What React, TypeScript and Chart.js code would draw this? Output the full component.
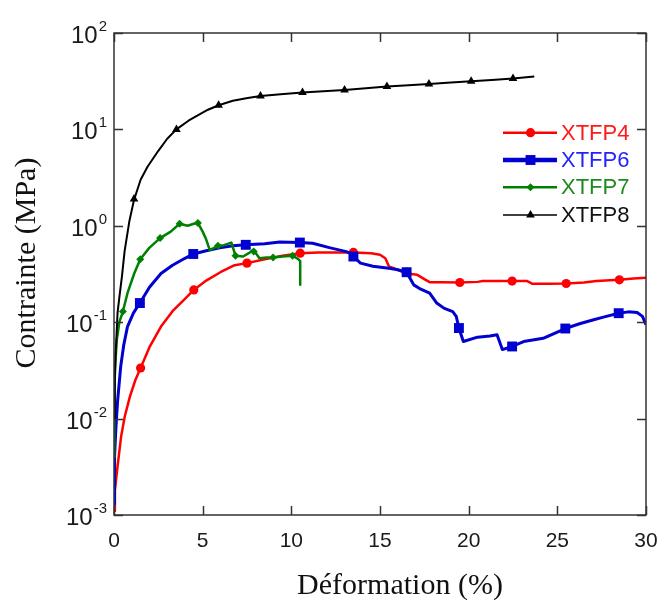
import React, { useEffect, useRef } from 'react';
import { Chart, registerables } from 'chart.js';

Chart.register(...registerables);

// ---------- data ----------
const xTickValues = [0, 5, 10, 15, 20, 25, 30];
const yTickExponents = [-3, -2, -1, 0, 1, 2];
const seriesNames = ['XTFP4', 'XTFP6', 'XTFP7', 'XTFP8'];

const xtfp4X = [0, 0.05, 0.2, 0.4, 0.6, 0.9, 1.2, 1.5, 2.0, 2.65, 3.3, 4.0, 4.5, 5.2, 6.0, 6.8, 7.5, 8.5, 9.5, 10.5, 11.5, 12.5, 13.5, 14.5, 15.0, 15.3, 15.5, 16.0, 16.5, 17.1, 17.5, 17.8, 18.5, 19.5, 20.5, 20.8, 21.5, 22.4, 23.3, 23.6, 24.5, 25.5, 26.5, 27.2, 28.5, 29.3, 30];
const xtfp4Y = [0.0011, 0.0018, 0.0032, 0.0065, 0.0104, 0.017, 0.025, 0.0335, 0.055, 0.09, 0.13, 0.175, 0.216, 0.27, 0.33, 0.39, 0.41, 0.45, 0.49, 0.52, 0.53, 0.53, 0.53, 0.52, 0.5, 0.46, 0.38, 0.35, 0.32, 0.31, 0.28, 0.26, 0.26, 0.258, 0.262, 0.267, 0.267, 0.267, 0.267, 0.25, 0.25, 0.252, 0.258, 0.267, 0.275, 0.284, 0.29];
const xtfp4MarkX = [1.5, 4.5, 7.5, 10.5, 13.5, 16.5, 19.5, 22.45, 25.5, 28.5];
const xtfp4MarkY = [0.0335, 0.216, 0.41, 0.52, 0.53, 0.33, 0.258, 0.267, 0.252, 0.275];

const xtfp6X = [0, 0.03, 0.1, 0.2, 0.38, 0.55, 0.76, 1.1, 1.46, 2.0, 2.65, 3.3, 4.0, 4.47, 5.2, 5.96, 6.7, 7.43, 8.5, 9.35, 10.48, 11.2, 12.2, 13.1, 13.3, 13.5, 13.9, 14.6, 15.6, 16.0, 16.5, 16.9, 17.3, 17.8, 18.2, 18.6, 19.1, 19.3, 19.45, 19.7, 20.5, 21.2, 21.6, 21.9, 22.45, 23.1, 24.2, 25.45, 26.3, 27.05, 27.6, 28.46, 29.0, 29.5, 29.8, 30];
const xtfp6Y = [0.0013, 0.004, 0.0076, 0.015, 0.035, 0.058, 0.09, 0.125, 0.158, 0.23, 0.32, 0.39, 0.46, 0.51, 0.55, 0.59, 0.62, 0.635, 0.65, 0.68, 0.67, 0.66, 0.59, 0.54, 0.52, 0.48, 0.41, 0.38, 0.36, 0.35, 0.33, 0.244, 0.22, 0.2, 0.158, 0.14, 0.129, 0.115, 0.087, 0.063, 0.07, 0.072, 0.074, 0.052, 0.056, 0.063, 0.068, 0.086, 0.097, 0.106, 0.113, 0.124, 0.128, 0.126, 0.115, 0.094];
const xtfp6MarkX = [1.46, 4.47, 7.43, 10.48, 13.5, 16.5, 19.45, 22.45, 25.45, 28.46];
const xtfp6MarkY = [0.158, 0.51, 0.635, 0.67, 0.48, 0.33, 0.087, 0.056, 0.086, 0.124];

const xtfp7X = [0, 0, 0.03, 0.1, 0.16, 0.3, 0.5, 0.76, 1.14, 1.48, 1.99, 2.6, 3.2, 3.7, 4.15, 4.5, 4.73, 5.0, 5.2, 5.4, 5.86, 6.2, 6.62, 6.7, 6.85, 7.28, 7.6, 7.84, 8.0, 8.2, 8.6, 8.97, 9.5, 10.07, 10.4, 10.5, 10.5];
const xtfp7Y = [0.004, 0.01, 0.021, 0.045, 0.066, 0.1, 0.129, 0.2, 0.32, 0.45, 0.59, 0.745, 0.87, 1.05, 1.0, 1.05, 1.07, 0.87, 0.72, 0.56, 0.62, 0.63, 0.67, 0.6, 0.49, 0.48, 0.52, 0.56, 0.52, 0.46, 0.47, 0.47, 0.48, 0.49, 0.45, 0.43, 0.244];
const xtfp7MarkX = [0.5, 1.48, 2.6, 3.7, 4.73, 5.86, 6.85, 7.88, 8.97, 10.07];
const xtfp7MarkY = [0.129, 0.45, 0.745, 1.05, 1.07, 0.62, 0.49, 0.54, 0.47, 0.49];

const xtfp8X = [0, 0.05, 0.1, 0.2, 0.3, 0.45, 0.6, 0.86, 1.13, 1.5, 1.89, 2.5, 3.0, 3.52, 4.2, 4.72, 5.3, 5.9, 6.7, 7.54, 8.26, 9.4, 10.63, 11.8, 13.0, 14.2, 15.39, 16.6, 17.76, 19.0, 20.14, 21.3, 22.5, 23.7];
const xtfp8Y = [0.01, 0.03, 0.05, 0.125, 0.18, 0.3, 0.55, 1.1, 1.86, 3.0, 4.1, 6.0, 8.0, 10.0, 12.3, 14.0, 16.0, 17.8, 19.8, 21.2, 22.2, 23.2, 24.1, 24.9, 25.7, 26.7, 27.8, 28.7, 29.6, 30.6, 31.6, 32.6, 33.7, 35.4];
const xtfp8MarkX = [1.13, 3.52, 5.9, 8.26, 10.63, 13.0, 15.39, 17.76, 20.14, 22.5];
const xtfp8MarkY = [1.9, 10.0, 17.8, 22.2, 24.1, 25.7, 27.8, 29.6, 31.6, 33.7];

// ---------- styles ----------
const COLORS = ['#ff0000', '#0000d0', '#008000', '#000000'];
const TEXT_COLORS = ['#ff1a1a', '#2323ff', '#1f8a1f', '#111111'];
const LINE_W = [2.5, 3, 2.5, 2];
const LEGEND_LINE_W = [2.5, 4.5, 2.5, 1.5];
const POINT_STYLES = ['circle', 'rect', 'rectRot', 'triangle'];
const POINT_R = [4.6, 7, 4, 5];

const toPts = (xs: number[], ys: number[]) => xs.map((x, i) => ({ x, y: ys[i] }));

function drawMarker(ctx: CanvasRenderingContext2D, style: string, x: number, y: number, r: number) {
  ctx.beginPath();
  if (style === 'circle') {
    ctx.arc(x, y, r, 0, Math.PI * 2);
  } else if (style === 'rect') {
    const s = Math.SQRT1_2 * r;
    ctx.rect(x - s, y - s, 2 * s, 2 * s);
  } else if (style === 'rectRot') {
    ctx.moveTo(x - r, y);
    ctx.lineTo(x, y - r);
    ctx.lineTo(x + r, y);
    ctx.lineTo(x, y + r);
    ctx.closePath();
  } else {
    const h = r;
    ctx.moveTo(x, y - h);
    ctx.lineTo(x + h * Math.sin((2 * Math.PI) / 3), y - h * Math.cos((2 * Math.PI) / 3));
    ctx.lineTo(x - h * Math.sin((2 * Math.PI) / 3), y - h * Math.cos((2 * Math.PI) / 3));
    ctx.closePath();
  }
  ctx.fill();
}

const framePlugin = {
  id: 'framePlugin',
  afterDraw(chart: any) {
    const ctx: CanvasRenderingContext2D = chart.ctx;
    const { left, right, top, bottom } = chart.chartArea;
    const xs = chart.scales.x;
    const ys = chart.scales.y;
    ctx.save();
    // frame
    ctx.strokeStyle = '#333333';
    ctx.lineWidth = 1.5;
    ctx.strokeRect(left, top, right - left, bottom - top);
    // ticks (inward, all sides)
    const TL = 9;
    ctx.beginPath();
    xTickValues.forEach((v) => {
      const px = Math.round(xs.getPixelForValue(v)) + 0.5;
      ctx.moveTo(px, bottom);
      ctx.lineTo(px, bottom - TL);
      ctx.moveTo(px, top);
      ctx.lineTo(px, top + TL);
    });
    yTickExponents.forEach((e) => {
      const py = Math.round(ys.getPixelForValue(Math.pow(10, e))) + 0.5;
      ctx.moveTo(left, py);
      ctx.lineTo(left + TL, py);
      ctx.moveTo(right, py);
      ctx.lineTo(right - TL, py);
    });
    ctx.stroke();

    // x tick labels
    ctx.fillStyle = '#1a1a1a';
    ctx.font = '21px "Liberation Sans", Arial, sans-serif';
    ctx.textAlign = 'center';
    ctx.textBaseline = 'alphabetic';
    xTickValues.forEach((v) => {
      ctx.fillText(String(v), xs.getPixelForValue(v), bottom + 32);
    });

    // y tick labels: 10^e
    yTickExponents.forEach((e) => {
      const py = ys.getPixelForValue(Math.pow(10, e));
      const exp = String(e);
      ctx.font = '15px "Liberation Sans", Arial, sans-serif';
      const ew = ctx.measureText(exp).width;
      const expRight = left - 7;
      ctx.textAlign = 'right';
      ctx.fillText(exp, expRight, py - 2);
      ctx.font = '24px "Liberation Sans", Arial, sans-serif';
      ctx.fillText('10', expRight - ew - 1, py + 10);
    });

    // axis titles
    ctx.fillStyle = '#111111';
    ctx.font = '30px "Liberation Serif", "Times New Roman", serif';
    ctx.textAlign = 'center';
    ctx.fillText('Déformation (%)', 400, 594);
    ctx.save();
    ctx.translate(35, 263);
    ctx.rotate(-Math.PI / 2);
    ctx.fillText('Contrainte (MPa)', 0, 0);
    ctx.restore();

    // legend
    const legendY = [132.7, 160, 187.3, 215];
    seriesNames.forEach((name, i) => {
      const y = legendY[i];
      ctx.strokeStyle = COLORS[i];
      ctx.lineWidth = LEGEND_LINE_W[i];
      ctx.beginPath();
      ctx.moveTo(503, y);
      ctx.lineTo(557, y);
      ctx.stroke();
      ctx.fillStyle = COLORS[i];
      drawMarker(ctx, POINT_STYLES[i], 530.5, y, POINT_R[i]);
      ctx.fillStyle = TEXT_COLORS[i];
      ctx.font = '22px "Liberation Sans", Arial, sans-serif';
      ctx.textAlign = 'left';
      ctx.textBaseline = 'middle';
      ctx.fillText(name, 561, y + 1);
      ctx.textBaseline = 'alphabetic';
    });
    ctx.restore();
  },
};

export default function App() {
  const ref = useRef<HTMLCanvasElement | null>(null);

  useEffect(() => {
    document.body.style.margin = '0';
    const canvas = ref.current;
    if (!canvas) return;
    const lineXs = [xtfp4X, xtfp6X, xtfp7X, xtfp8X];
    const lineYs = [xtfp4Y, xtfp6Y, xtfp7Y, xtfp8Y];
    const markXs = [xtfp4MarkX, xtfp6MarkX, xtfp7MarkX, xtfp8MarkX];
    const markYs = [xtfp4MarkY, xtfp6MarkY, xtfp7MarkY, xtfp8MarkY];
    const datasets: any[] = [];
    seriesNames.forEach((name, i) => {
      const baseOrder = (3 - i) * 2;
      datasets.push({
        label: name,
        data: toPts(lineXs[i], lineYs[i]),
        borderColor: COLORS[i],
        borderWidth: LINE_W[i],
        pointRadius: 0,
        fill: false,
        tension: 0,
        borderJoinStyle: 'round',
        order: baseOrder + 1,
      });
      datasets.push({
        label: name + ' markers',
        data: toPts(markXs[i], markYs[i]),
        showLine: false,
        pointStyle: POINT_STYLES[i],
        pointRadius: POINT_R[i],
        pointBackgroundColor: COLORS[i],
        pointBorderWidth: 0,
        borderColor: COLORS[i],
        order: baseOrder,
      });
    });

    const chart = new Chart(canvas, {
      type: 'line',
      data: { datasets },
      options: {
        responsive: false,
        animation: false,
        devicePixelRatio: 1,
        layout: { autoPadding: false, padding: { left: 114, right: 13, top: 33, bottom: 88 } },
        plugins: { legend: { display: false }, tooltip: { enabled: false } },
        scales: {
          x: { type: 'linear', min: 0, max: 30, display: false },
          y: { type: 'logarithmic', min: 0.001, max: 100, display: false },
        },
      } as any,
      plugins: [framePlugin],
    });
    return () => chart.destroy();
  }, []);

  return <canvas ref={ref} width={659} height={603} style={{ display: 'block', width: 659, height: 603 }} />;
}
